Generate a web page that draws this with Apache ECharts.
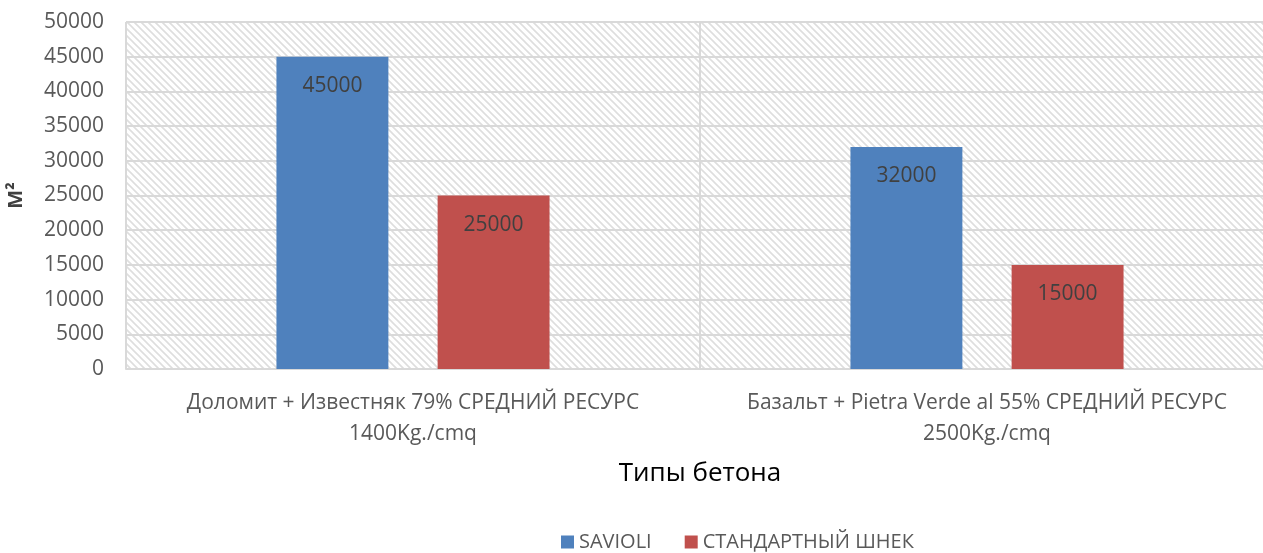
<!DOCTYPE html>
<html>
<head>
<meta charset="utf-8">
<script src="https://cdn.jsdelivr.net/npm/echarts@6/dist/echarts.min.js"></script>
<style>
html,body{margin:0;padding:0;background:#fff;}
#main{width:1263px;height:553px;}
</style>
</head>
<body>
<div id="main"></div>
<script>
const categories = ['Доломит + Известняк 79% СРЕДНИЙ РЕСУРС\n1400Kg./cmq', 'Базальт + Pietra Verde al 55% СРЕДНИЙ РЕСУРС\n2500Kg./cmq'];
const seriesNames = ['SAVIOLI', 'СТАНДАРТНЫЙ ШНЕК'];
const savioli = [45000, 32000];
const standard = [25000, 15000];
const yTicks = { min: 0, max: 50000, interval: 5000 };

const FONT = 'Open Sans';

function hatch() {
  const s = 7;
  const c = document.createElement('canvas');
  c.width = s; c.height = s;
  const g = c.getContext('2d');
  g.fillStyle = '#ffffff';
  g.fillRect(0, 0, s, s);
  g.strokeStyle = '#dedede';
  g.lineWidth = 1.6;
  g.beginPath();
  g.moveTo(-1, -1); g.lineTo(s + 1, s + 1);
  g.moveTo(-1, s - 1); g.lineTo(1, s + 1);
  g.moveTo(s - 1, -1); g.lineTo(s + 1, 1);
  g.stroke();
  return c;
}

const chart = echarts.init(document.getElementById('main'));
const labelCfg = {
  show: true, position: 'insideTop', distance: 19,
  color: '#404040', fontFamily: FONT, fontSize: 21
};
chart.setOption({
  animation: false,
  grid: {
    left: 126, top: 22, width: 1148, height: 347,
    containLabel: false, outerBoundsMode: 'none',
    show: true, borderWidth: 0,
    backgroundColor: { image: hatch(), repeat: 'repeat' }
  },
  legend: {
    bottom: -4, left: 556, itemWidth: 13, itemHeight: 13, itemGap: 33,
    icon: 'rect',
    textStyle: { color: '#595959', fontFamily: FONT, fontSize: 20 },
    data: seriesNames
  },
  xAxis: {
    type: 'category',
    data: categories,
    name: 'Типы бетона',
    nameLocation: 'middle',
    nameGap: 92,
    nameTextStyle: { color: '#000', fontFamily: FONT, fontSize: 26 },
    axisTick: { show: false },
    axisLine: { lineStyle: { color: '#d9d9d9', width: 2 } },
    splitLine: { show: true, interval: 0, lineStyle: { color: '#d9d9d9', width: 2 } },
    axisLabel: { interval: 0, hideOverlap: false, color: '#595959', fontFamily: FONT, fontSize: 21, lineHeight: 31, margin: 19 }
  },
  yAxis: {
    type: 'value',
    min: yTicks.min, max: yTicks.max, interval: yTicks.interval,
    name: 'М²',
    nameLocation: 'middle',
    nameRotate: 90,
    nameGap: 100,
    nameTextStyle: { color: '#404040', fontFamily: FONT, fontSize: 20, fontWeight: 'bold' },
    axisLine: { show: false },
    axisTick: { show: false },
    splitLine: { lineStyle: { color: '#d9d9d9', width: 2 } },
    axisLabel: { color: '#595959', fontFamily: FONT, fontSize: 21, margin: 22, formatter: v => String(v) }
  },
  series: [
    { name: seriesNames[0], type: 'bar', data: savioli, barWidth: '19.5%', barGap: '44%',
      itemStyle: { color: '#4f81bd' }, label: labelCfg },
    { name: seriesNames[1], type: 'bar', data: standard, barWidth: '19.5%', barGap: '44%',
      itemStyle: { color: '#c0504d' }, label: labelCfg }
  ]
});
</script>
</body>
</html>
